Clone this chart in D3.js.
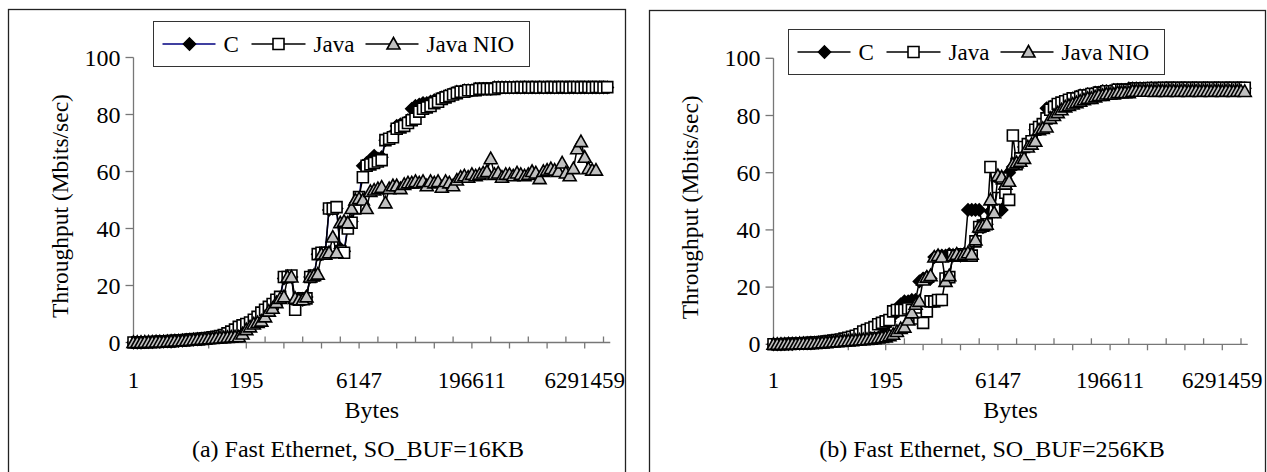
<!DOCTYPE html>
<html>
<head>
<meta charset="utf-8">
<script src="https://cdn.jsdelivr.net/npm/d3@7"></script>
<style>
  body { margin: 0; background: #fff; }
  svg { display: block; }
</style>
</head>
<body>
<svg id="chart" width="1267" height="472"></svg>
<script>
// message sizes (bytes) - category axis
const sizes = [1,2,3,4,5,7,9,13,16,19,21,24,27,29,32,35,45,48,51,61,64,67,93,96,99,125,128,131,189,192,195,
  253,256,259,381,384,387,509,512,515,765,768,771,1021,1024,1027,1533,1536,1539,2045,2048,2051,3069,3072,3075,4093,4096,4099,6141,6144,6147,
  8189,8192,8195,12285,12288,12291,16381,16384,16387,24573,24576,24579,32765,32768,32771,49149,49152,49155,65533,65536,65539,98301,98304,98307,131069,131072,131075,196605,196608,196611,
  262141,262144,262147,393213,393216,393219,524285,524288,524291,786429,786432,786435,1048573,1048576,1048579,1572861,1572864,1572867,2097149,2097152,2097155,3145725,3145728,3145731,4194301,4194304,4194307,6291453,6291456,6291459,
  8388605,8388608,8388611,12582909,12582912,12582915];
const tickLabels = ["1", "195", "6147", "196611", "6291459"];
const yTicks = [0, 20, 40, 60, 80, 100];
const seriesNames = ["C", "Java", "Java NIO"];
const titles = ["(a) Fast Ethernet, SO_BUF=16KB", "(b) Fast Ethernet, SO_BUF=256KB"];

// (a) SO_BUF=16KB, Mbits/sec
const cA = [0,0,0,0.1,0.1,0.1,0.2,0.2,0.3,0.4,
  0.4,0.5,0.6,0.7,0.8,0.9,1.0,1.1,1.2,1.4,
  1.5,1.7,1.9,2.2,2.5,3.0,3.5,4.2,5.0,5.8,
  6.3,7.0,7.8,8.8,10.0,11.0,12.0,13.0,14.5,15.5,
  22.5,23.0,23.0,14.0,15.0,15.0,16.0,23.0,23.5,31.0,
  31.0,31.5,46.5,47.0,47.0,33.0,32.0,41.0,42.5,48.0,
  50.5,62.0,63.0,64.0,65.5,64.5,65.0,71.0,72.0,73.0,
  76.0,76.5,77.0,78.0,82.0,83.0,83.5,84.0,84.0,84.5,
  85.0,85.5,86.0,86.5,87.0,87.5,88.0,88.0,88.5,88.5,
  88.5,89.0,89.0,89.0,89.0,89.0,89.5,89.5,89.5,89.5,
  89.5,89.5,89.5,89.5,89.5,89.5,89.5,89.5,89.5,89.5,
  89.5,89.5,89.5,89.5,89.5,89.5,89.5,89.5,89.5,89.5,
  89.5,89.5,89.5,89.5,89.5,89.5,89.5];
const javaA = [0,0,0,0.1,0.1,0.2,0.2,0.3,0.3,0.4,
  0.5,0.6,0.7,0.8,0.9,1.0,1.1,1.2,1.3,1.5,
  1.6,1.8,2.0,2.3,2.6,3.2,3.8,4.5,5.5,6.0,
  6.5,7.0,8.0,9.0,10.5,11.5,12.5,13.5,15.0,16.0,
  23.0,23.0,23.5,11.5,15.0,15.5,15.5,23.0,23.5,31.0,
  31.5,31.5,47.0,47.0,47.5,32.0,31.5,40.0,42.0,47.0,
  51.0,58.0,62.0,62.5,63.0,63.5,64.0,71.0,71.5,72.0,
  75.0,75.5,76.0,77.0,78.0,78.5,81.0,82.0,82.5,83.0,
  84.0,84.5,85.5,86.0,86.5,87.0,87.5,88.0,88.0,88.5,
  88.5,88.5,89.0,89.0,89.0,89.0,89.0,89.5,89.5,89.5,
  89.5,89.5,89.5,89.6,89.5,89.6,89.5,89.6,89.5,89.6,
  89.5,89.6,89.6,89.5,89.6,89.6,89.5,89.6,89.6,89.5,
  89.6,89.6,89.5,89.6,89.6,89.5,89.6];
const nioA = [0,0,0,0.1,0.1,0.1,0.2,0.2,0.2,0.3,
  0.4,0.5,0.5,0.6,0.7,0.8,0.9,1.0,1.1,1.2,
  1.3,1.4,1.5,1.6,1.7,1.8,1.9,2.0,2.0,3.0,
  4.5,5.5,6.5,7.0,7.5,9.0,11.0,12.0,14.0,15.5,
  16.0,23.0,23.0,15.5,15.0,15.0,16.0,23.0,23.5,24.0,
  31.0,31.0,31.5,37.0,31.5,42.0,42.5,42.0,47.0,50.0,
  50.5,50.0,47.0,53.0,53.5,54.0,54.5,49.0,54.0,55.0,
  55.0,54.0,55.5,56.0,56.0,56.5,56.0,56.5,55.0,56.5,
  56.0,56.5,54.5,56.5,56.0,55.0,57.0,58.0,58.5,58.0,
  59.0,58.5,59.0,59.5,60.0,64.5,59.0,59.5,58.0,59.0,
  59.0,58.5,59.5,59.0,58.5,59.0,60.0,59.5,57.5,60.0,
  60.5,61.0,60.5,60.0,63.0,59.5,58.5,61.0,68.0,70.5,
  65.0,61.0,60.5,60.5];

// (b) SO_BUF=256KB, Mbits/sec
const cB = [0,0,0,0.1,0.1,0.1,0.2,0.2,0.3,0.3,
  0.4,0.5,0.6,0.7,0.8,0.9,1.0,1.2,1.4,1.6,
  1.8,2.1,2.4,2.8,3.2,3.8,4.5,5.0,5.5,6.0,
  6.5,8.0,10.0,12.0,14.0,15.0,15.0,15.5,15.5,22.0,
  23.0,23.5,23.0,30.5,31.0,31.0,31.0,31.5,31.0,31.5,
  31.0,31.5,47.0,47.0,47.0,47.0,41.0,42.0,46.5,46.5,
  46.5,47.0,58.0,60.0,62.0,63.0,64.0,69.0,70.0,71.0,
  75.0,76.0,77.0,82.5,83.0,83.5,84.0,84.5,85.0,85.5,
  86.0,86.5,87.0,87.0,87.5,87.5,88.0,88.0,88.5,88.5,
  88.5,89.0,89.0,89.0,89.0,89.5,89.5,89.5,89.5,89.5,
  89.5,89.6,89.5,89.6,89.5,89.6,89.5,89.6,89.5,89.6,
  89.6,89.5,89.6,89.6,89.5,89.6,89.6,89.5,89.6,89.6,
  89.5,89.6,89.6,89.5,89.6,89.6,89.5];
const javaB = [0,0,0,0.1,0.1,0.2,0.2,0.3,0.3,0.4,
  0.5,0.6,0.7,0.8,1.0,1.1,1.3,1.5,1.7,2.0,
  2.3,2.6,3.0,3.5,4.5,5.0,5.5,6.0,7.0,7.5,
  8.0,8.5,11.5,12.0,12.0,12.0,12.5,12.0,11.0,9.0,
  7.5,11.5,15.0,15.0,15.5,15.5,23.0,23.5,31.0,31.0,
  31.0,31.5,31.5,31.0,36.0,41.0,41.5,42.0,62.0,47.0,
  55.0,58.0,53.0,50.5,73.0,63.0,65.0,69.0,70.0,71.0,
  75.0,76.0,77.0,79.0,82.0,83.0,84.0,84.5,85.0,85.5,
  86.0,86.0,86.5,87.0,87.0,87.5,87.5,88.0,88.0,88.5,
  88.5,88.5,89.0,89.0,89.0,89.0,89.0,89.5,89.5,89.5,
  89.5,89.6,89.6,89.5,89.6,89.7,89.6,89.6,89.7,89.6,
  89.6,89.7,89.6,89.6,89.7,89.6,89.6,89.7,89.6,89.6,
  89.7,89.6,89.6,89.7,89.6,89.6,89.7];
const nioB = [0,0,0,0,0.1,0.1,0.1,0.2,0.2,0.2,
  0.3,0.3,0.4,0.5,0.6,0.7,0.8,0.9,1.0,1.1,
  1.2,1.3,1.4,1.5,1.6,1.7,1.8,2.0,2.2,2.4,
  2.6,3.0,3.5,4.5,5.5,6.0,8.5,11.0,14.0,15.0,
  22.5,23.5,24.0,30.5,31.0,30.5,22.0,24.0,31.0,31.5,
  31.0,31.5,32.0,31.5,36.5,41.0,41.5,42.0,50.5,46.0,
  59.0,58.5,56.0,57.0,63.0,63.5,64.0,65.0,69.0,70.0,
  71.0,75.0,75.5,76.0,79.0,80.0,81.0,82.0,83.0,83.5,
  84.0,84.5,85.0,85.5,86.0,86.0,86.5,87.0,87.0,87.5,
  87.5,87.5,88.0,88.0,88.0,88.0,88.5,88.5,88.5,88.5,
  88.5,88.5,88.4,88.5,88.5,88.4,88.5,88.5,88.4,88.5,
  88.5,88.4,88.5,88.5,88.4,88.5,88.5,88.4,88.5,88.5,
  88.4,88.5,88.5,88.4,88.5,88.5,88.4];

const FONT = '"Liberation Serif"';

const svg = d3.select("#chart");

// marker shapes, centred on 0,0
const shapes = [
  {path: "M0,-6L6,0L0,6L-6,0Z", fill: "#000"},          // diamond
  {path: "M-5.5,-5.5H5.5V5.5H-5.5Z", fill: "#fff"},     // square
  {path: "M0,-6.5L6.5,5H-6.5Z", fill: "#c0c0c0"}        // triangle
];

const panels = [
  {title: titles[0], data: [cA, javaA, nioA], cColor: "#000080",
   box: [8.5, 9.5, 617, 470], x0: 133.5, step: 3.76, y0: 342.5, y100: 57.5,
   yTitleX: 68, titleX: 358, legend: [153.5, 21.5, 376, 45]},
  {title: titles[1], data: [cB, javaB, nioB], cColor: "#000",
   box: [649.5, 10.5, 616, 470], x0: 773.5, step: 3.74, y0: 344.3, y100: 58.3,
   yTitleX: 698, titleX: 992, legend: [788.5, 29.5, 376, 45]}
];

function label(g, size) {
  return g.append("text").style("font-family", FONT).style("font-size", (size || 23) + "px").attr("fill", "#000");
}

panels.forEach(p => {
  const g = svg.append("g");

  g.append("rect")
    .attr("x", p.box[0]).attr("y", p.box[1])
    .attr("width", p.box[2]).attr("height", p.box[3])
    .attr("fill", "none").attr("stroke", "#222").attr("stroke-width", 1.3);

  const x = d3.scalePoint().domain(sizes).range([p.x0, p.x0 + p.step * (sizes.length - 1)]);
  const y = d3.scaleLinear().domain([0, 100]).range([p.y0, p.y100]);
  const xEnd = x(sizes[sizes.length - 1]) + 3;

  // y axis
  g.append("line").attr("x1", p.x0).attr("x2", p.x0).attr("y1", p.y0).attr("y2", p.y100)
    .attr("stroke", "#777").attr("stroke-width", 1.3);
  yTicks.forEach(t => {
    g.append("line").attr("x1", p.x0 - 8).attr("x2", p.x0).attr("y1", y(t)).attr("y2", y(t))
      .attr("stroke", "#777").attr("stroke-width", 1.3);
    label(g, 24).attr("x", p.x0 - 13).attr("y", y(t) + 8)
      .attr("text-anchor", "end").text(t);
  });

  // x axis
  g.append("line").attr("x1", p.x0).attr("x2", xEnd).attr("y1", p.y0).attr("y2", p.y0)
    .attr("stroke", "#777").attr("stroke-width", 1.3);
  sizes.forEach((s, i) => {
    if (i % 5 !== 0) return;
    const down = i % 10 === 0;
    g.append("line").attr("x1", x(s)).attr("x2", x(s))
      .attr("y1", p.y0).attr("y2", down ? p.y0 + 6 : p.y0 - 6)
      .attr("stroke", "#777").attr("stroke-width", 1.3);
  });
  tickLabels.forEach(l => {
    label(g).attr("x", x(+l)).attr("y", 388)
      .attr("text-anchor", "middle").text(l);
  });

  // series: line then markers, in legend order
  p.data.forEach((vals, k) => {
    const pts = vals.map((v, i) => [x(sizes[i]), y(v)]);
    g.append("path").attr("d", d3.line()(pts))
      .attr("fill", "none").attr("stroke", k === 0 ? p.cColor : "#000").attr("stroke-width", 1.5);
    g.selectAll(null).data(pts).enter().append("path")
      .attr("d", shapes[k].path)
      .attr("transform", d => `translate(${d[0]},${d[1]})`)
      .attr("fill", shapes[k].fill).attr("stroke", "#000").attr("stroke-width", 1.6);
  });

  // axis titles
  label(g, 24).attr("x", (p.x0 + xEnd) / 2).attr("y", 418)
    .attr("text-anchor", "middle").text("Bytes");
  label(g, 23.5).attr("transform", `translate(${p.yTitleX},${(p.y0 + p.y100) / 2 + 6}) rotate(-90)`)
    .attr("text-anchor", "middle").text("Throughput (Mbits/sec)");
  label(g, 24).attr("x", p.titleX).attr("y", 457)
    .attr("text-anchor", "middle").text(p.title);

  // legend
  const [lx, ly, lw, lh] = p.legend;
  g.append("rect").attr("x", lx).attr("y", ly).attr("width", lw).attr("height", lh)
    .attr("fill", "#fff").attr("stroke", "#333").attr("stroke-width", 1);
  const items = [{l0: 9, l1: 62, m: 36, t: 70}, {l0: 98, l1: 152, m: 125, t: 160}, {l0: 212, l1: 265, m: 240, t: 273}];
  const cy = ly + lh / 2;
  items.forEach((it, k) => {
    g.append("line").attr("x1", lx + it.l0).attr("x2", lx + it.l1).attr("y1", cy).attr("y2", cy)
      .attr("stroke", k === 0 ? p.cColor : "#000").attr("stroke-width", 1.5);
    g.append("path").attr("d", shapes[k].path).attr("transform", `translate(${lx + it.m},${cy})`)
      .attr("fill", shapes[k].fill).attr("stroke", "#000").attr("stroke-width", 1.6);
    label(g).attr("x", lx + it.t).attr("y", cy + 8).text(seriesNames[k]);
  });
});
</script>
</body>
</html>
